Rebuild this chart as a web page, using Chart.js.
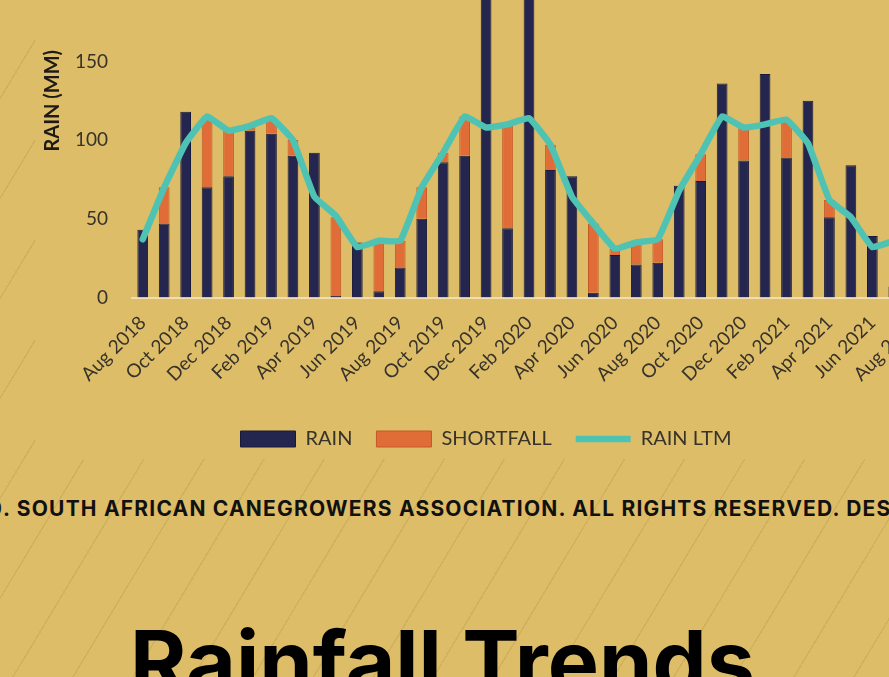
<!DOCTYPE html>
<html><head><meta charset="utf-8">
<script src="https://cdn.jsdelivr.net/npm/chart.js@4.4.1/dist/chart.umd.min.js"></script>
<style>
html,body{margin:0;padding:0;width:889px;height:677px;overflow:hidden;background:#ddbd68;}
body{position:relative;background-image:repeating-linear-gradient(121deg, rgba(0,0,0,0) 0px, rgba(0,0,0,0) 50px, rgba(150,110,40,0.16) 50px, rgba(150,110,40,0.16) 51.5px);}
#chart{position:absolute;left:0;top:0;}
#footer{position:absolute;left:3px;top:498px;white-space:nowrap;font:700 21px/21px Inter, sans-serif;letter-spacing:1.2px;color:#111;}
#footer .pre{position:absolute;right:100%;}
#title{position:absolute;left:130px;top:619px;white-space:nowrap;font:700 86px/86px Inter,sans-serif;color:#000;}
</style></head><body>
<canvas id="chart" width="972" height="555"></canvas>
<div id="footer"><span class="pre">COPYRIGHT © 2020</span>. SOUTH AFRICAN CANEGROWERS ASSOCIATION. ALL RIGHTS RESERVED. DESIGNED BY</div>
<div id="title">Rainfall Trends</div>
<script>
const months = ['Aug 2018','Sep 2018','Oct 2018','Nov 2018','Dec 2018','Jan 2019','Feb 2019','Mar 2019','Apr 2019','May 2019','Jun 2019','Jul 2019',
  'Aug 2019','Sep 2019','Oct 2019','Nov 2019','Dec 2019','Jan 2020','Feb 2020','Mar 2020','Apr 2020','May 2020','Jun 2020','Jul 2020',
  'Aug 2020','Sep 2020','Oct 2020','Nov 2020','Dec 2020','Jan 2021','Feb 2021','Mar 2021','Apr 2021','May 2021','Jun 2021','Jul 2021','Aug 2021'];
const rain = [43,47,118,70,77,106,104,90,92,1,35,4,
  19,50,86,90,235,44,215,81,77,3,27,21,
  22,71,74,136,87,142,89,125,51,84,39,7,null];
const shortfall = [0,23,0,45,29,3,10,10,0,50,0,32,
  17,20,6,25,0,66,0,16,0,44,4,14,
  15,0,17,0,21,0,24,0,11,0,0,0,null];
const rainLtm = [37,70,98,115,106,109,114,100,64,52,32,36,
  36,70,92,115,108,110,114,97,64,47,31,35,
  37,68,91,115,108,110,113,98,62,51,32,36,37];
const yTickValues = [0,50,100,150,200,250];

const BG = '#ddbd68';
const TXT = '#37322a';

const bgPlugin = {
  id:'bg',
  beforeDraw(chart){
    const c = chart.ctx;
    c.save(); c.fillStyle = BG; c.fillRect(35,0,chart.width-35,chart.height); c.restore();
  }
};

const chart = new Chart(document.getElementById('chart'), {
  data: {
    labels: months,
    datasets: [
      { type:'bar', label:'RAIN', data: rain, stack:'r', order:1,
        backgroundColor:'#242650', borderColor:'#181a3a', borderWidth:1, pointStyle:'rect',
        categoryPercentage:1, barPercentage:0.5 },
      { type:'bar', label:'SHORTFALL', data: shortfall, stack:'r', order:1,
        backgroundColor:'#e06d38', borderColor:'#c4582a', borderWidth:1, pointStyle:'rect',
        categoryPercentage:1, barPercentage:0.5 },
      { type:'line', label:'RAIN LTM', data: rainLtm, stack:'ltm', order:0,
        borderColor:'#4fc3b3', backgroundColor:'#4fc3b3', borderWidth:6.5, pointRadius:0,
        pointStyle:'line', tension:0.1, borderCapStyle:'round', borderJoinStyle:'round', fill:false }
    ]
  },
  options: {
    responsive:false, animation:false,
    layout:{ padding:0 },
    plugins:{
      tooltip:{enabled:false},
      legend:{ position:'bottom', align:'center',
        labels:{ usePointStyle:true, pointStyleWidth:55, boxHeight:16, padding:24, color:TXT,
          font:{family:'Lato', size:20}, sort:(a,b)=>a.datasetIndex-b.datasetIndex } }
    },
    scales:{
      x:{ stacked:true, grid:{display:false, drawTicks:false},
        border:{display:true, color:'rgba(245,232,200,0.75)', width:2},
        ticks:{ autoSkip:false, minRotation:45, maxRotation:45, padding:14, color:TXT,
          font:{family:'Lato', size:19}, callback:(v,i)=> i%2===0 ? months[i] : '' },
        afterFit(s){ s.height = 107.5; s.paddingLeft = 0; s.paddingRight = 0; } },
      y:{ stacked:true, min:0, max:250, position:'left',
        grid:{display:false, drawTicks:false}, border:{display:false},
        ticks:{ padding:24, color:TXT, font:{family:'Lato', size:19} },
        afterBuildTicks(s){ s.ticks = yTickValues.map(v=>({value:v})); },
        title:{ display:true, text:'RAIN (MM)', color:'#1e1b16', font:{family:'Lato', size:20, weight:'bold'}, padding:{top:41,bottom:0} },
        afterFit(s){ s.width = 132; s.paddingTop = 0; s.paddingBottom = 0; } },
      y2:{ position:'right', display:true, grid:{display:false, drawTicks:false}, border:{display:false},
        ticks:{display:false}, afterFit(s){ s.width = 46; } }
    }
  },
  plugins:[bgPlugin]
});

const y0 = chart.scales.y.getPixelForValue(0);
const x0 = chart.scales.x.getPixelForValue(0);
const cv = document.getElementById('chart');
cv.style.top = (297.5 - y0) + 'px';
cv.style.left = (142.7 - x0) + 'px';
</script>
</body></html>
